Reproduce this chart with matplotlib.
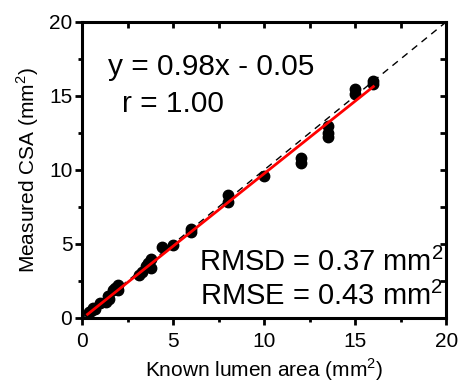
import numpy as np
import matplotlib.pyplot as plt
from matplotlib.ticker import MultipleLocator

plt.rcParams['font.family'] = ['Liberation Sans', 'DejaVu Sans']
plt.rcParams['mathtext.fontset'] = 'custom'
plt.rcParams['mathtext.rm'] = 'Liberation Sans'

# known lumen area vs measured CSA (mm^2)
known = [0.4, 0.5, 0.6, 0.7, 1.0, 1.3, 1.4, 1.5, 1.7, 1.8, 2.0, 2.0,
         3.1, 3.3, 3.5, 3.6, 3.8, 3.8, 4.4, 5.0, 6.0, 6.0,
         8.0, 8.0, 10.0, 12.0, 12.0, 13.5, 13.5, 13.5, 15.0, 15.0, 16.0, 16.0]
measured = [0.4, 0.5, 0.7, 0.6, 1.0, 1.1, 1.5, 1.3, 1.9, 2.0, 2.2, 1.9,
            2.9, 3.1, 3.5, 3.7, 3.4, 4.0, 4.8, 4.9, 5.8, 6.0,
            7.8, 8.3, 9.6, 10.5, 10.8, 12.2, 12.5, 13.0, 15.1, 15.5, 15.8, 16.0]
slope, intercept = 0.98, -0.05
fit_range = [0.3, 16.0]

fig = plt.figure(figsize=(4.61, 3.84), dpi=100)
ax = fig.add_axes([0.178, 0.172, 0.79, 0.771])

ax.plot([0, 20], [0, 20], 'k--', lw=1, dashes=(5, 4))
ax.plot(known, measured, 'o', color='k', ms=7.5, zorder=3)
xf = np.array(fit_range)
ax.plot(xf, slope * xf + intercept, color='red', lw=2, zorder=4)

ax.set_xlim(0, 20)
ax.set_ylim(0, 20)
ax.xaxis.set_major_locator(MultipleLocator(5))
ax.yaxis.set_major_locator(MultipleLocator(5))
ax.xaxis.set_minor_locator(MultipleLocator(2.5))
ax.yaxis.set_minor_locator(MultipleLocator(2.5))
for s in ax.spines.values():
    s.set_linewidth(2.2)
ax.tick_params(which='major', direction='out', length=5, width=2, labelsize=15, pad=2)
ax.tick_params(axis='x', which='major', pad=5)
ax.tick_params(which='minor', direction='out', length=3, width=2)

# inward ticks on top and right
sec_x = ax.secondary_xaxis('top')
sec_x.xaxis.set_major_locator(MultipleLocator(2.5))
sec_x.tick_params(direction='in', length=4, width=2, labeltop=False)
sec_y = ax.secondary_yaxis('right')
sec_y.yaxis.set_major_locator(MultipleLocator(2.5))
sec_y.tick_params(direction='in', length=4, width=2, labelright=False)

ax.set_xlabel('Known lumen area (mm$^2$)', fontsize=15, labelpad=4)
ax.set_ylabel('Measured CSA (mm$^2$)', fontsize=15, labelpad=6)

ax.text(1.4, 16.4, 'y = 0.98x - 0.05', fontsize=21.5)
ax.text(2.2, 13.9, 'r = 1.00', fontsize=21.5)
ax.text(19.85, 3.2, 'RMSD = 0.37 mm$^2$', fontsize=21, ha='right')
ax.text(19.85, 0.9, 'RMSE = 0.43 mm$^2$', fontsize=21, ha='right')

fig.savefig('out.png', dpi=100)
